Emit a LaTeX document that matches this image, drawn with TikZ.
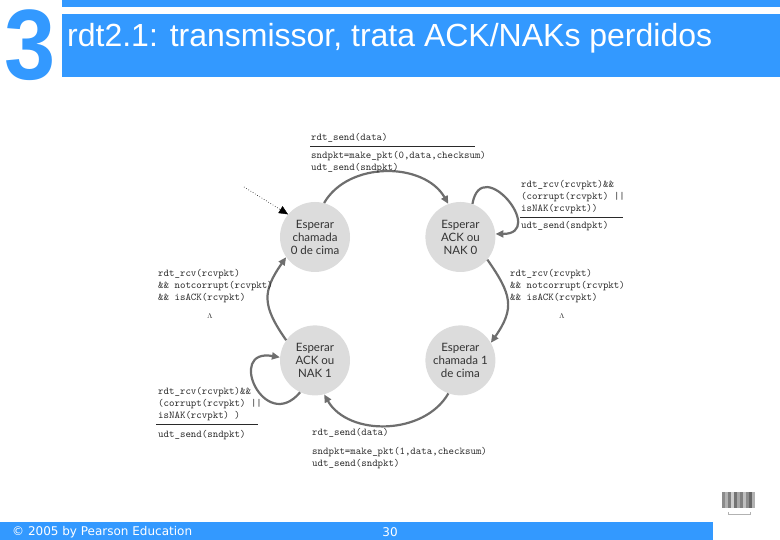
\documentclass[tikz,border=0pt]{standalone}
\usepackage{fontspec}
\setmainfont{Lato}
\newfontfamily\titlefont{Liberation Sans}
\newfontfamily\footfont{DejaVu Sans}
\usepackage{xcolor}
\usetikzlibrary{positioning,arrows.meta}
\definecolor{slideBlue}{HTML}{3399FF}
\definecolor{stateFill}{HTML}{DCDCDC}
\definecolor{arcGray}{HTML}{6E6E6E}
\definecolor{labelInk}{HTML}{2A2A2A}
\tikzset{
  state/.style={circle, fill=stateFill, minimum size=70pt, inner sep=0pt, align=center, font=\fontsize{11.5}{13}\selectfont, text=black!80},
  trans/.style={-{Triangle[length=8pt,width=7pt]}, line width=2.2pt, draw=arcGray},
  initarr/.style={-{Triangle[length=9pt,width=8pt,line width=0.4pt,fill=black]}, dotted, semithick},
  evt/.style={anchor=west, align=left, inner sep=0pt, font=\ttfamily\fontsize{10.4}{12}\selectfont, text=labelInk},
  rulebar/.style={line width=0.8pt, draw=labelInk}
}
\begin{document}
\begin{tikzpicture}[x=1pt,y=1pt]
  \useasboundingbox (0,0) rectangle (780,540);
  % slide frame
  \fill[slideBlue] (62,533) rectangle (780,540);
  \fill[slideBlue] (62,463) rectangle (780,526);
  \fill[slideBlue] (0,0) rectangle (713,18);
  \node[font=\titlefont\bfseries\fontsize{100}{100}\selectfont, text=slideBlue, inner sep=0pt, xscale=0.92] (chap) at (30,495) {3};
  \node[anchor=west, font=\titlefont\fontsize{32}{32}\selectfont, text=white, inner sep=0pt] (title) at (67,502) {rdt2.1: transmissor, trata ACK/NAKs perdidos};
  \node[anchor=west, font=\footfont\fontsize{12}{12}\selectfont, text=white, inner sep=0pt] (copy) at (12,8) {\textcopyright\ 2005 by Pearson Education};
  \node[font=\footfont\fontsize{12}{12}\selectfont, text=white, inner sep=0pt] (page) at (390,8) {30};

  % states
  \node[state] (w0) at (315,303) {Esperar\\chamada\\0 de cima};
  \node[state, right=75pt of w0] (a0) {Esperar\\ACK ou\\NAK 0};
  \node[state, below=53pt of w0] (a1) {Esperar\\ACK ou\\NAK 1};
  \node[state, below=53pt of a0] (w1) {Esperar\\chamada 1\\de cima};
  \coordinate (init) at (244,353);

  % transitions
  \draw[initarr] (init) -- (w0.140);
  \draw[trans] (w0.75) to[out=60,in=120] (a0.110);
  \draw[trans] (a0.-40) to[out=-55,in=55,looseness=1.3] (w1.30);
  \draw[trans] (w1.-110) to[out=-120,in=-60] (a1.-75);
  \draw[trans] (a1.145) to[out=125,in=-125,looseness=1.3] (w0.215);
  \draw[trans] (a0.70) to[out=80,in=0,looseness=3.5] (a0.5);
  \draw[trans] (a1.-115) to[out=-130,in=170,looseness=3.5] (a1.175);

  % labels
  \node[evt] (topev) at (311,402) {rdt\_send(data)};
  \draw[rulebar] (310,394) -- (475,394);
  \node[evt] (topact) at (311,378) {sndpkt=make\_pkt(0,data,checksum)\\udt\_send(sndpkt)};
  \node[evt] (nakev0) at (521,343) {rdt\_rcv(rcvpkt)\&\&\\(corrupt(rcvpkt) ||\\isNAK(rcvpkt))};
  \draw[rulebar] (520,323) -- (623,323);
  \node[evt] (nakact0) at (521,314) {udt\_send(sndpkt)};
  \node[evt] (ackev0) at (510,254) {rdt\_rcv(rcvpkt)\\\&\& notcorrupt(rcvpkt)\\\&\& isACK(rcvpkt)};
  \node[evt] (lam0) at (559,224) {$\scriptstyle\Lambda$};
  \node[evt] (ackev1) at (158,254) {rdt\_rcv(rcvpkt)\\\&\& notcorrupt(rcvpkt)\\\&\& isACK(rcvpkt)};
  \node[evt] (lam1) at (207,224) {$\scriptstyle\Lambda$};
  \node[evt] (nakev1) at (158,136) {rdt\_rcv(rcvpkt)\&\&\\(corrupt(rcvpkt) ||\\isNAK(rcvpkt) )};
  \draw[rulebar] (156,116) -- (258,116);
  \node[evt] (nakact1) at (158,105) {udt\_send(sndpkt)};
  \node[evt] (botev) at (312,107) {rdt\_send(data)};
  \node[evt] (botact) at (312,82) {sndpkt=make\_pkt(1,data,checksum)\\udt\_send(sndpkt)};

  % thumbnail
  \foreach \x/\g in {722/45,725/30,728/50,731/20,734/55,737/35,740/50,743/25,746/45,749/60,752/30}
    \fill[black!\g] (\x,32) rectangle ++(3,16);
  \draw[black!30, thin] (728,28) -- (728,26) -- (750,26) -- (750,28);
\end{tikzpicture}
\end{document}
